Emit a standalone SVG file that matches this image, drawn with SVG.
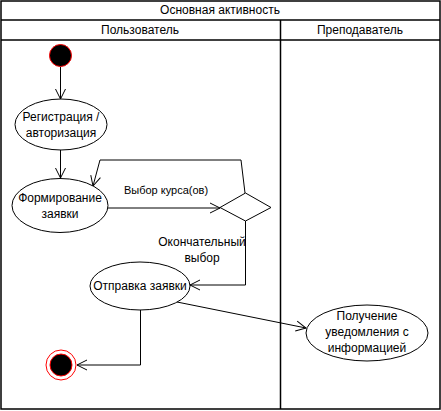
<svg xmlns="http://www.w3.org/2000/svg" width="441" height="411" viewBox="0 0 441 411">
<style>
text{font-family:"Liberation Sans",Arial,sans-serif;font-size:12px;fill:#000;text-anchor:middle}
.lbl{font-size:11px}
.node{fill:#fff;stroke:#000;stroke-width:1}
.edge{fill:none;stroke:#000;stroke-width:1}
.lane{fill:#fff;stroke:#000;stroke-width:1.5}
</style>
<defs>
<marker id="open" markerUnits="userSpaceOnUse" markerWidth="12" markerHeight="12" refX="11" refY="6" orient="auto" overflow="visible">
<path d="M1,1 L11,6 L1,11" fill="none" stroke="#000" stroke-width="1"/>
</marker>
</defs>
<g id="pool">
<rect class="lane" x="1" y="1" width="439" height="408"/>
<line x1="1" y1="20" x2="440" y2="20" stroke="#000" stroke-width="1.5"/>
<line x1="1" y1="40" x2="440" y2="40" stroke="#000" stroke-width="1.5"/>
<line x1="280.5" y1="20" x2="280.5" y2="409" stroke="#000" stroke-width="1.5"/>
<text x="220" y="14">Основная активность</text>
<text x="140" y="34">Пользователь</text>
<text x="360" y="34">Преподаватель</text>
</g>
<g id="edges">
<line class="edge" x1="60.5" y1="67" x2="60.5" y2="99" marker-end="url(#open)"/>
<line class="edge" x1="60.5" y1="150" x2="60.5" y2="178" marker-end="url(#open)"/>
<line class="edge" x1="108" y1="208" x2="220" y2="208" marker-end="url(#open)"/>
<path class="edge" d="M245,193 L241,160 L100,160 L93,186" marker-end="url(#open)"/>
<path class="edge" d="M245.5,221 L245.5,285 L190,285" marker-end="url(#open)"/>
<path class="edge" d="M140.5,310 L140.5,365 L77,365" marker-end="url(#open)"/>
<line class="edge" x1="177" y1="302" x2="306" y2="328" marker-end="url(#open)"/>
<text class="lbl" x="166" y="194">Выбор курса(ов)</text>
<text x="202" y="246">Окончательный</text>
<text x="202" y="262">выбор</text>
</g>
<g id="start">
<circle cx="60.5" cy="55.5" r="11" fill="#000" stroke="#f00" stroke-width="1"/>
</g>
<g id="registration">
<ellipse class="node" cx="61" cy="124.5" rx="46" ry="25.5"/>
<text x="61" y="121">Регистрация /</text>
<text x="61" y="137">авторизация</text>
</g>
<g id="formation">
<ellipse class="node" cx="60" cy="205.5" rx="48" ry="27"/>
<text x="60" y="202">Формирование</text>
<text x="60" y="218">заявки</text>
</g>
<g id="decision">
<polygon class="node" points="245.5,193 271,207.5 245.5,221 220,207.5"/>
</g>
<g id="send">
<ellipse class="node" cx="140" cy="286" rx="50" ry="24"/>
<text x="140" y="290">Отправка заявки</text>
</g>
<g id="notify">
<ellipse class="node" cx="367" cy="333" rx="61" ry="28"/>
<text x="367" y="320">Получение</text>
<text x="367" y="336">уведомления с</text>
<text x="367" y="352">информацией</text>
</g>
<g id="end">
<circle cx="61" cy="365" r="15" fill="#fff" stroke="#f00" stroke-width="1"/>
<circle cx="61" cy="365" r="11" fill="#000" stroke="#f00" stroke-width="1"/>
</g>
</svg>
